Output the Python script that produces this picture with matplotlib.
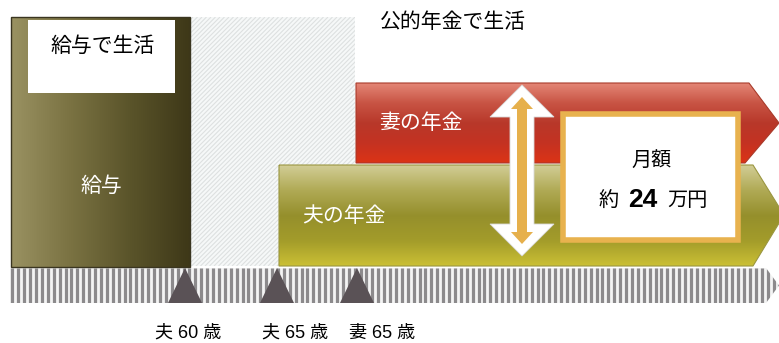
import numpy as np
import matplotlib
matplotlib.use("Agg")
import matplotlib.pyplot as plt
from matplotlib.patches import Polygon, Rectangle
from matplotlib.collections import LineCollection
from matplotlib.colors import LinearSegmentedColormap

plt.rcParams['font.family'] = ['Noto Sans CJK JP', 'DejaVu Sans']

# ---- data ----
title_text = "公的年金で生活"
salary_box_text = "給与で生活"
salary_label = "給与"
wife_label = "妻の年金"
husband_label = "夫の年金"
marker_labels = ["夫 60 歳", "夫 65 歳", "妻 65 歳"]
monthly_title = "月額"
monthly_amount = 24
monthly_prefix = "約"
monthly_unit = "万円"

W, H = 779, 343
fig = plt.figure(figsize=(W / 100, H / 100), dpi=100)
ax = fig.add_axes([0, 0, 1, 1])
ax.set_xlim(0, W)
ax.set_ylim(H, 0)
ax.axis('off')


def gradient_fill(poly_xy, colors, direction='v', z=1):
    poly = Polygon(poly_xy, closed=True, facecolor='none', edgecolor='none', zorder=z)
    ax.add_patch(poly)
    xs = [p[0] for p in poly_xy]
    ys = [p[1] for p in poly_xy]
    x0, x1, y0, y1 = min(xs), max(xs), min(ys), max(ys)
    cmap = LinearSegmentedColormap.from_list('g', colors)
    if direction == 'v':
        arr = np.linspace(0, 1, 256).reshape(-1, 1)
    else:
        arr = np.linspace(0, 1, 256).reshape(1, -1)
    im = ax.imshow(arr, cmap=cmap, extent=(x0, x1, y1, y0), aspect='auto',
                   interpolation='bilinear', zorder=z, origin='upper')
    im.set_clip_path(poly)
    return poly


# ---- hatched gap area ----
hx0, hx1, hy0, hy1 = 190, 355, 17, 266
hpoly = Polygon([(hx0, hy0), (hx1, hy0), (hx1, hy1), (hx0, hy1)], closed=True,
                facecolor='#f6f8f8', edgecolor='none', zorder=0)
ax.add_patch(hpoly)
segs = []
for c in np.arange(-300, 600, 4.5):
    segs.append([(hx0 + c, hy1), (hx0 + c + (hy1 - hy0), hy0)])
lc = LineCollection(segs, colors='#dde1e1', linewidths=0.8, zorder=0.5)
ax.add_collection(lc)
lc.set_clip_path(hpoly)

# ---- salary block ----
sal = [(11, 17), (190, 17), (190, 267), (11, 267)]
gradient_fill(sal, ['#9a9262', '#7a7242', '#5a542a', '#3e3818'], direction='h', z=1)
ax.add_patch(Polygon(sal, closed=True, facecolor='none', edgecolor='#3a3520', linewidth=1, zorder=1.5))
ax.add_patch(Rectangle((28, 20), 147, 73, facecolor='white', edgecolor='none', zorder=2))
ax.text(103, 46, salary_box_text, fontsize=15, ha='center', va='center', color='black', zorder=3)
ax.text(101, 186, salary_label, fontsize=15, ha='center', va='center', color='white', zorder=3)

# ---- title ----
ax.text(453, 22, title_text, fontsize=15, ha='center', va='center', color='black', zorder=3)

# ---- husband pension arrow ----
hus = [(279, 165), (753, 165), (784, 215), (753, 266), (279, 266)]
gradient_fill(hus, ['#d2cd96', '#b0aa55', '#958f2c', '#a39c2a', '#cbc035'], direction='v', z=1)
ax.add_patch(Polygon(hus, closed=True, facecolor='none', edgecolor='#9a9640', linewidth=0.8, zorder=1.5))
ax.text(344, 216, husband_label, fontsize=15, ha='center', va='center', color='white', zorder=3)

# ---- wife pension arrow ----
wif = [(356, 83), (749, 83), (779, 123), (745, 163), (356, 163)]
gradient_fill(wif, ['#e48676', '#c85444', '#b8382a', '#c43222', '#dc3416'], direction='v', z=2)
ax.add_patch(Polygon(wif, closed=True, facecolor='none', edgecolor='#a83a2a', linewidth=0.8, zorder=2.2))
ax.text(421, 123, wife_label, fontsize=15, ha='center', va='center', color='white', zorder=3)

# ---- double arrow ----
cx = 522
def dbl_arrow(top, bot, sw, hw, hl, color, z, ec='none'):
    pts = [(cx, top), (cx + hw, top + hl), (cx + sw, top + hl), (cx + sw, bot - hl),
           (cx + hw, bot - hl), (cx, bot), (cx - hw, bot - hl), (cx - sw, bot - hl),
           (cx - sw, top + hl), (cx - hw, top + hl)]
    ax.add_patch(Polygon(pts, closed=True, facecolor=color, edgecolor=ec, linewidth=0.6, zorder=z))

dbl_arrow(85, 256, 12, 32, 32, 'white', 4, ec='#d8d8d8')
dbl_arrow(97, 244, 5, 11, 12, '#e6b04c', 4.5)

# ---- monthly box ----
ax.add_patch(Rectangle((563, 114), 175, 126, facecolor='white', edgecolor='#e8b24e', linewidth=4, zorder=5))
ax.text(652, 160, monthly_title, fontsize=14.5, ha='center', va='center', color='black', zorder=6)
ax.text(609, 201, monthly_prefix, fontsize=14.5, ha='center', va='center', color='black', zorder=6)
ax.text(643, 200, str(monthly_amount), fontsize=19, fontweight='bold', ha='center', va='center',
        color='black', zorder=6, family=['Liberation Sans', 'DejaVu Sans'])
ax.text(687, 201, monthly_unit, fontsize=14.5, ha='center', va='center', color='black', zorder=6)

# ---- timeline ----
tl = [(10, 268), (766, 268), (779, 285.5), (766, 303), (10, 303)]
tlp = Polygon(tl, closed=True, facecolor='#f4f4f4', edgecolor='none', zorder=1)
ax.add_patch(tlp)
vsegs = [[(x, 268), (x, 303)] for x in np.arange(12.5, 782, 5.9)]
vl = LineCollection(vsegs, colors='#8c8a8c', linewidths=2.3, zorder=1.2)
ax.add_collection(vl)
vl.set_clip_path(tlp)

marker_x = [185, 277, 357]
for mx in marker_x:
    ax.add_patch(Polygon([(mx - 17, 303), (mx, 268), (mx + 17, 303)], closed=True,
                         facecolor='#5a5256', edgecolor='none', zorder=3))

label_x = [188, 295, 382]
for lx, lab in zip(label_x, marker_labels):
    ax.text(lx, 333, lab, fontsize=13, ha='center', va='center', color='black', zorder=3,
            family=['Liberation Sans', 'Noto Sans CJK JP'])

fig.savefig('out.png', dpi=100)
